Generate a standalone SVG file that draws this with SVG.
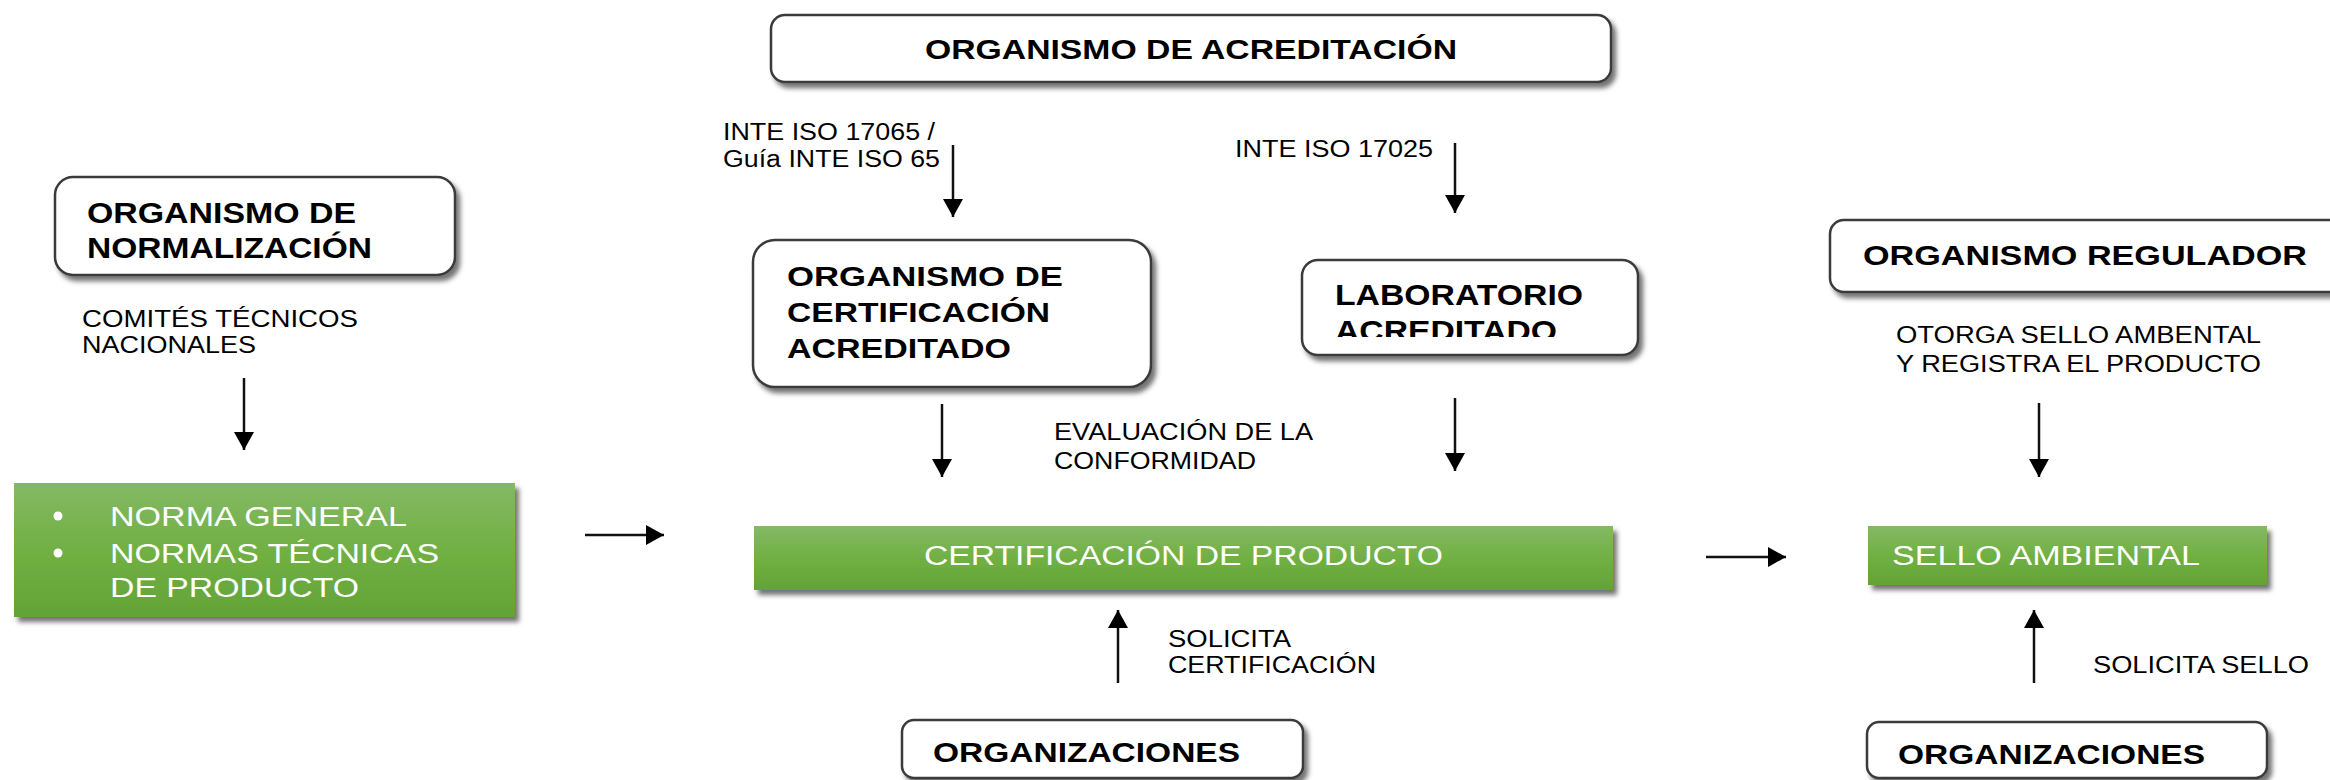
<svg xmlns="http://www.w3.org/2000/svg" width="2330" height="780" viewBox="0 0 2330 780">
<style>
.bg{fill:#ffffff}
.box{fill:#ffffff;stroke:#3a3a3a;stroke-width:2.5}
.gbox{fill:url(#green)}
.t{font-family:"Liberation Sans",Arial,sans-serif;fill:#000}
.tb{font-family:"Liberation Sans",Arial,sans-serif;font-weight:bold;font-size:29px;fill:#000}
.lbl{font-family:"Liberation Sans",Arial,sans-serif;font-size:23px;fill:#000}
.wt{font-family:"Liberation Sans",Arial,sans-serif;font-size:28px;fill:#ffffff}
.conn{stroke:#111;stroke-width:2.5;fill:none;marker-end:url(#ah)}
</style>
<defs>
<linearGradient id="green" x1="0" y1="0" x2="0" y2="1">
<stop offset="0" stop-color="#84b965"/>
<stop offset="0.5" stop-color="#71b043"/>
<stop offset="1" stop-color="#63a337"/>
</linearGradient>
<filter id="sh" x="-10%" y="-20%" width="125%" height="160%">
<feDropShadow dx="4" dy="5" stdDeviation="2.5" flood-color="#000" flood-opacity="0.55"/>
</filter>
<marker id="ah" markerUnits="userSpaceOnUse" markerWidth="20" markerHeight="20" refX="18" refY="10" orient="auto">
<path d="M0,0 L18,10 L0,20 Z" fill="#000"/>
</marker>
<clipPath id="labclip"><rect x="1300" y="258" width="340" height="79"/></clipPath>
</defs>
<rect class="bg" x="0" y="0" width="2330" height="780"/>

<g id="connectors">
<line class="conn" x1="244" y1="378" x2="244" y2="450"/>
<line class="conn" x1="585" y1="535" x2="664" y2="535"/>
<line class="conn" x1="953" y1="145" x2="953" y2="217"/>
<line class="conn" x1="1455" y1="143" x2="1455" y2="213"/>
<line class="conn" x1="942" y1="404" x2="942" y2="477"/>
<line class="conn" x1="1455" y1="398" x2="1455" y2="471"/>
<line class="conn" x1="1118" y1="683" x2="1118" y2="610"/>
<line class="conn" x1="1706" y1="557" x2="1786" y2="557"/>
<line class="conn" x1="2039" y1="403" x2="2039" y2="477"/>
<line class="conn" x1="2034" y1="683" x2="2034" y2="610"/>
</g>

<g id="labels">
<text class="lbl" x="82" y="327" textLength="276" lengthAdjust="spacingAndGlyphs">COMITÉS  TÉCNICOS</text>
<text class="lbl" x="82" y="353" textLength="174" lengthAdjust="spacingAndGlyphs">NACIONALES</text>
<text class="lbl" x="723" y="140" textLength="212" lengthAdjust="spacingAndGlyphs">INTE ISO 17065 /</text>
<text class="lbl" x="723" y="167" textLength="217" lengthAdjust="spacingAndGlyphs">Guía INTE ISO 65</text>
<text class="lbl" x="1235" y="157" textLength="198" lengthAdjust="spacingAndGlyphs">INTE ISO 17025</text>
<text class="lbl" x="1054" y="440" textLength="259" lengthAdjust="spacingAndGlyphs">EVALUACIÓN DE LA</text>
<text class="lbl" x="1054" y="469" textLength="202" lengthAdjust="spacingAndGlyphs">CONFORMIDAD</text>
<text class="lbl" x="1168" y="647" textLength="123" lengthAdjust="spacingAndGlyphs">SOLICITA</text>
<text class="lbl" x="1168" y="673" textLength="208" lengthAdjust="spacingAndGlyphs">CERTIFICACIÓN</text>
<text class="lbl" x="1896" y="343" textLength="365" lengthAdjust="spacingAndGlyphs">OTORGA SELLO AMBENTAL</text>
<text class="lbl" x="1896" y="372" textLength="365" lengthAdjust="spacingAndGlyphs">Y REGISTRA EL PRODUCTO</text>
<text class="lbl" x="2093" y="673" textLength="216" lengthAdjust="spacingAndGlyphs">SOLICITA SELLO</text>
</g>

<g id="node-normalizacion">
<rect class="box" x="55" y="177" width="400" height="98" rx="18" filter="url(#sh)"/>
<text class="tb" x="87" y="223" textLength="269" lengthAdjust="spacingAndGlyphs">ORGANISMO DE</text>
<text class="tb" x="87" y="258" textLength="285" lengthAdjust="spacingAndGlyphs">NORMALIZACIÓN</text>
</g>

<g id="node-normas">
<rect class="gbox" x="14" y="483" width="501" height="134" filter="url(#sh)"/>
<circle cx="58" cy="516" r="4.5" fill="#fff"/>
<circle cx="58" cy="553" r="4.5" fill="#fff"/>
<text class="wt" x="110" y="526" textLength="297" lengthAdjust="spacingAndGlyphs">NORMA GENERAL</text>
<text class="wt" x="110" y="563" textLength="329" lengthAdjust="spacingAndGlyphs">NORMAS TÉCNICAS</text>
<text class="wt" x="110" y="597" textLength="249" lengthAdjust="spacingAndGlyphs">DE PRODUCTO</text>
</g>

<g id="node-acreditacion">
<rect class="box" x="771" y="15" width="840" height="67" rx="14" filter="url(#sh)"/>
<text class="tb" x="925" y="59" style="font-size:28px" textLength="532" lengthAdjust="spacingAndGlyphs">ORGANISMO DE ACREDITACIÓN</text>
</g>

<g id="node-certificador">
<rect class="box" x="753" y="240" width="398" height="147" rx="22" filter="url(#sh)"/>
<text class="tb" x="787" y="286" style="font-size:27px" textLength="276" lengthAdjust="spacingAndGlyphs">ORGANISMO  DE</text>
<text class="tb" x="787" y="322" style="font-size:27px" textLength="263" lengthAdjust="spacingAndGlyphs">CERTIFICACIÓN</text>
<text class="tb" x="787" y="358" style="font-size:27px" textLength="224" lengthAdjust="spacingAndGlyphs">ACREDITADO</text>
</g>

<g id="node-laboratorio">
<rect class="box" x="1302" y="260" width="336" height="95" rx="16" filter="url(#sh)"/>
<text class="tb" x="1335" y="305" style="font-size:30px" textLength="248" lengthAdjust="spacingAndGlyphs">LABORATORIO</text>
<text class="tb" x="1335" y="341" style="font-size:30px" textLength="222" lengthAdjust="spacingAndGlyphs" clip-path="url(#labclip)">ACREDITADO</text>
</g>

<g id="node-certificacion-producto">
<rect class="gbox" x="754" y="526" width="859" height="64" filter="url(#sh)"/>
<text class="wt" x="924" y="565" style="font-size:27px" textLength="519" lengthAdjust="spacingAndGlyphs">CERTIFICACIÓN DE PRODUCTO</text>
</g>

<g id="node-organizaciones-1">
<rect class="box" x="902" y="720" width="401" height="58" rx="12" filter="url(#sh)"/>
<text class="tb" x="933" y="762" style="font-size:28px" textLength="307" lengthAdjust="spacingAndGlyphs">ORGANIZACIONES</text>
</g>

<g id="node-regulador">
<rect class="box" x="1830" y="220" width="520" height="72" rx="14" filter="url(#sh)"/>
<text class="tb" x="1863" y="265" style="font-size:28px" textLength="444" lengthAdjust="spacingAndGlyphs">ORGANISMO  REGULADOR</text>
</g>

<g id="node-sello">
<rect class="gbox" x="1868" y="526" width="399" height="59" filter="url(#sh)"/>
<text class="wt" x="1892" y="565" style="font-size:27px" textLength="308" lengthAdjust="spacingAndGlyphs">SELLO AMBIENTAL</text>
</g>

<g id="node-organizaciones-2">
<rect class="box" x="1867" y="722" width="400" height="56" rx="12" filter="url(#sh)"/>
<text class="tb" x="1898" y="764" style="font-size:28px" textLength="307" lengthAdjust="spacingAndGlyphs">ORGANIZACIONES</text>
</g>
</svg>
